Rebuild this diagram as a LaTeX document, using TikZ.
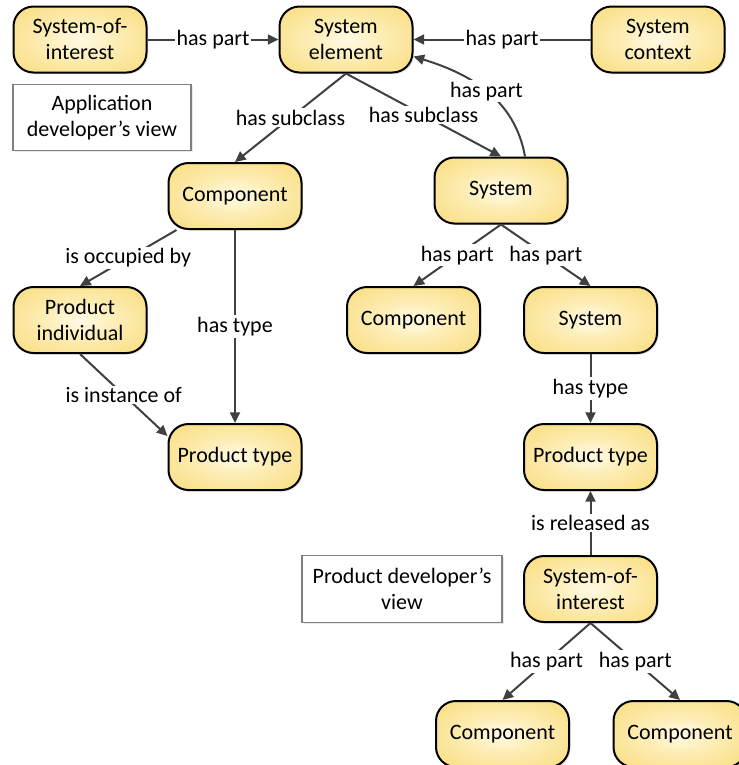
\documentclass[tikz,border=0pt]{standalone}
\usepackage{fontspec}
\setmainfont{Carlito}
\usetikzlibrary{arrows.meta,calc,shadows}

\definecolor{edgegray}{HTML}{404040}
\definecolor{boxgray}{HTML}{808080}
\definecolor{goldin}{HTML}{FFFAE6}
\definecolor{goldmid}{HTML}{FDEDB4}
\definecolor{goldout}{HTML}{F6D15A}

% soft centre-to-edge glow for the concept boxes
\pgfdeclareradialshading{conceptglow}{\pgfpoint{0bp}{0bp}}{%
  color(0bp)=(goldin); color(14bp)=(goldmid); color(50bp)=(goldout); color(72bp)=(goldout)}

\tikzset{
  concept/.style={rectangle, rounded corners=15pt, draw=black, line width=1.5pt,
    shading=conceptglow, minimum width=99.75pt, minimum height=49.5pt,
    align=center, inner sep=2pt,
    drop shadow={opacity=0.22, shadow xshift=1.2pt, shadow yshift=-1.2pt}},
  viewbox/.style={rectangle, draw=boxgray, line width=1pt, fill=white,
    align=center, inner sep=2pt,
    drop shadow={opacity=0.18, shadow xshift=1.2pt, shadow yshift=-1.2pt}},
  rel/.style={draw=edgegray, line width=1.5pt,
    -{Triangle[length=8pt,width=7.5pt]}},
  lab/.style={fill=white, inner sep=1.2pt, text=black}
}

\begin{document}
\begin{tikzpicture}[x=0.75pt, y=0.75pt, font=\fontsize{16.5}{19.5}\selectfont]
\useasboundingbox (0,0) rectangle (739,-765);
\clip (0,0) rectangle (739,-765);

% application developer's view
\node[concept] (soiT)  at (80,-39.5)   {System-of-\\interest};
\node[concept] (se)    at (346,-39.5)  {System\\element};
\node[concept] (ctx)   at (658,-39.5)  {System\\context};
\node[viewbox, minimum width=133.5pt, minimum height=49.5pt] (appv) at (102,-117.5)
  {Application\\developer’s view};
\node[concept] (compL) at (235,-196) {Component};
\node[concept] (sysR)  at (501,-190.5) {System};
\node[concept] (pind)  at (80,-320)  {Product\\individual};
\node[concept] (compM) at (413.5,-320) {Component};
\node[concept] (sysM)  at (590.5,-320) {System};
\node[concept] (ptL)   at (235,-457) {Product type};
\node[concept] (ptR)   at (590.5,-457) {Product type};

% product developer's view
\node[viewbox, minimum width=150pt, minimum height=50pt] (prodv) at (402,-589)
  {Product developer’s\\view};
\node[concept] (soiB)  at (590.5,-589) {System-of-\\interest};
\node[concept] (compBL) at (502.5,-734) {Component};
\node[concept] (compBR) at (680,-734) {Component};

% relations
\draw[rel] (soiT) -- node[lab]{has part} (se);
\draw[rel] (ctx) -- node[lab]{has part} (se);
\draw[rel] (se.south) -- node[lab]{has subclass} (compL.north);
\draw[rel] (se.south) -- node[lab]{has subclass} (sysR.north);
\draw[rel] ($(sysR.north)+(24,0)$) to[out=100, in=-17]
  node[lab]{has part} ($(se.east)+(0,-17)$);
\draw[rel] (compL) -- node[lab]{is occupied by} (pind.north);
\draw[rel] (compL) -- node[lab]{has type} (ptL);
\draw[rel] (pind.south) -- node[lab]{is instance of} ($(ptL.west)+(0,21)$);
\draw[rel] (sysR.south) -- node[lab]{has part} (compM.north);
\draw[rel] (sysR.south) -- node[lab]{has part} (sysM.north);
\draw[rel] (sysM) -- node[lab]{has type} (ptR);
\draw[rel] (soiB) -- node[lab]{is released as} (ptR);
\draw[rel] (soiB.south) -- node[lab]{has part} (compBL.north);
\draw[rel] (soiB.south) -- node[lab]{has part} (compBR.north);
\end{tikzpicture}
\end{document}
